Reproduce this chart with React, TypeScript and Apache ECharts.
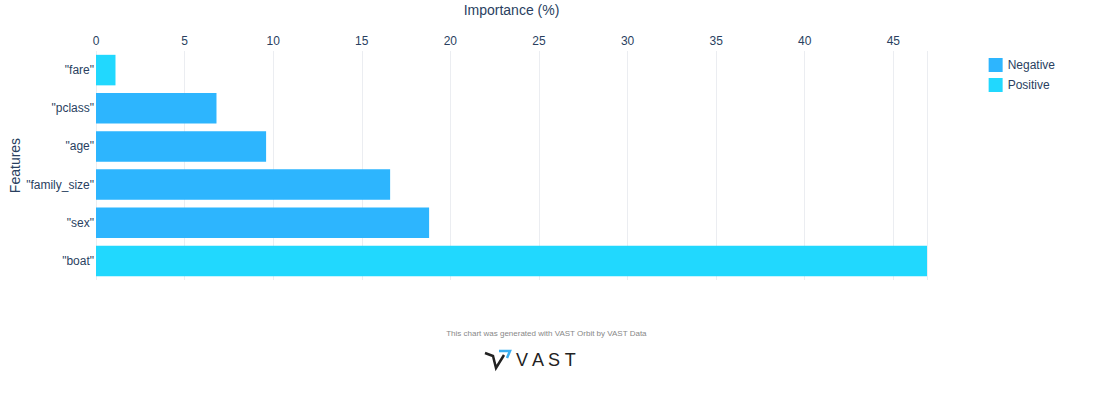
import React, { useEffect, useRef } from 'react';
import * as echarts from 'echarts';

const features = ['"fare"', '"pclass"', '"age"', '"family_size"', '"sex"', '"boat"'];
const importance = [1.1, 6.8, 9.6, 16.6, 18.8, 46.9];
const sign = ['Positive', 'Negative', 'Negative', 'Negative', 'Negative', 'Positive'];

const NEG = '#2db5fe';
const POS = '#21d8fe';

const App: React.FC = () => {
  const chartRef = useRef<HTMLDivElement>(null);

  useEffect(() => {
    document.body.style.margin = '0';
    if (!chartRef.current) return;
    const chart = echarts.init(chartRef.current, undefined, { renderer: 'svg' });

    const seriesFor = (name: string, color: string) => ({
      name,
      type: 'bar',
      stack: 'all',
      barWidth: '80%',
      itemStyle: { color },
      data: importance.map((v, i) => (sign[i] === name ? v : '-')),
    });

    chart.setOption({
      animation: false,
      textStyle: { fontFamily: 'Liberation Sans, Arial, sans-serif' },
      grid: { left: 96, right: 166, top: 51, height: 229, containLabel: false, outerBoundsMode: 'none' },
      legend: {
        orient: 'vertical',
        right: 33,
        top: 53,
        itemWidth: 14,
        itemHeight: 14,
        itemGap: 6,
        icon: 'rect',
        textStyle: { fontSize: 12, color: '#2a3f5f' },
        data: ['Negative', 'Positive'],
      },
      xAxis: {
        type: 'value',
        position: 'top',
        min: 0,
        max: 46.9,
        interval: 5,
        name: 'Importance (%)',
        nameLocation: 'middle',
        nameGap: 34,
        nameMoveOverlap: false,
        nameTextStyle: { fontSize: 14, color: '#2a3f5f' },
        axisLabel: { fontSize: 12, color: '#2a3f5f', margin: 4, showMaxLabel: false },
        axisLine: { show: false },
        axisTick: { show: false },
        splitLine: { lineStyle: { color: '#ebedf1' } },
      },
      yAxis: {
        type: 'category',
        inverse: true,
        data: features,
        name: 'Features',
        nameLocation: 'middle',
        nameGap: 74,
        nameMoveOverlap: false,
        nameTextStyle: { fontSize: 14, color: '#2a3f5f' },
        axisLabel: { fontSize: 12, color: '#2a3f5f', margin: 2 },
        axisLine: { show: false },
        axisTick: { show: false },
      },
      series: [seriesFor('Negative', NEG), seriesFor('Positive', POS)],
      graphic: [
        {
          type: 'text',
          left: 'center',
          top: 329,
          style: { text: 'This chart was generated with VAST Orbit by VAST Data', fontSize: 8, fill: '#888' },
        },
        {
          type: 'polyline',
          shape: { points: [[485, 353], [493, 356], [496, 368], [504, 355]] },
          style: { stroke: '#222', lineWidth: 2.5, fill: 'none' },
        },
        {
          type: 'polyline',
          shape: { points: [[499, 351], [510, 351], [507, 358]] },
          style: { stroke: '#3aaef0', lineWidth: 2.5, fill: 'none' },
        },
        {
          type: 'text',
          x: 516,
          y: 351,
          style: { text: 'V A S T', fontSize: 18, fill: '#222' },
        },
      ],
    });

    return () => chart.dispose();
  }, []);

  return <div ref={chartRef} style={{ width: 1093, height: 400 }} />;
};

export default App;
